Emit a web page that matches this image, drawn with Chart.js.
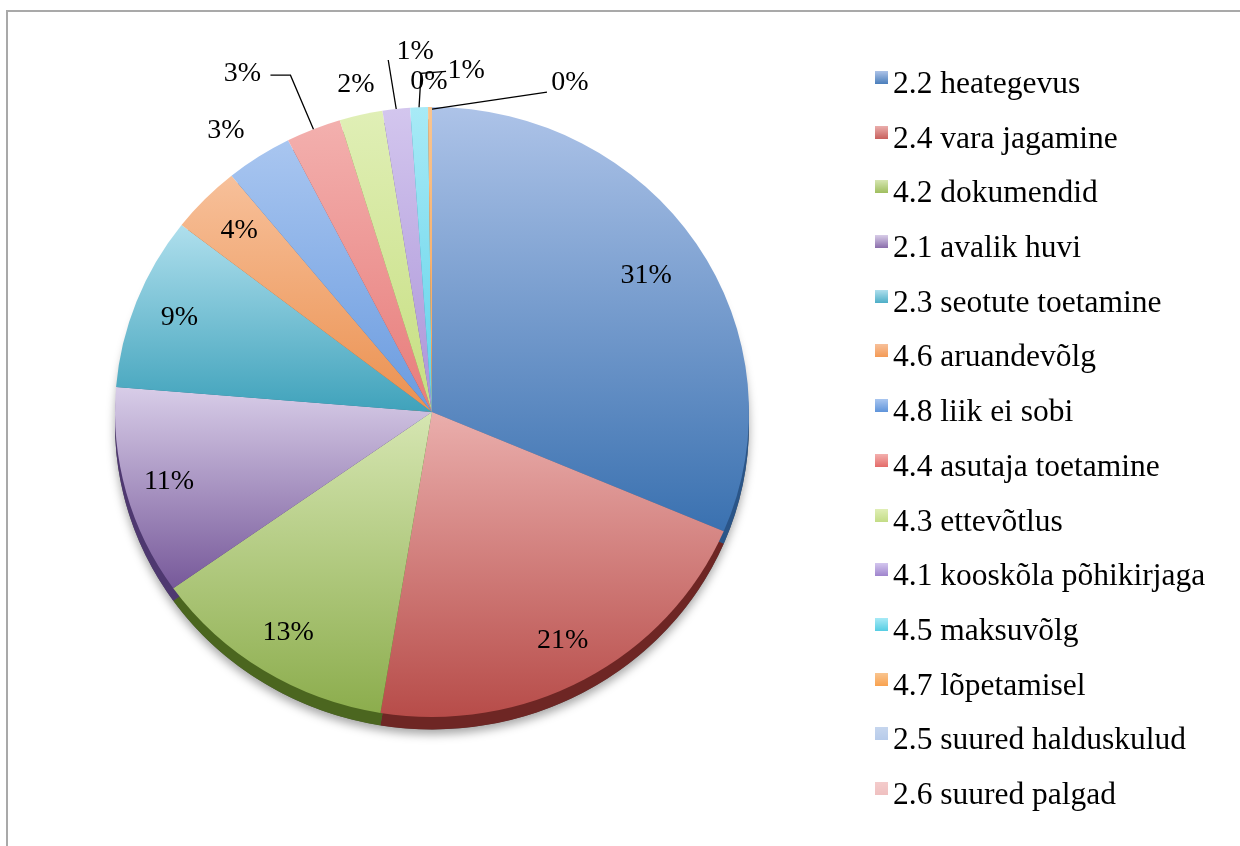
<!DOCTYPE html>
<html lang="et">
<head>
    <meta charset="UTF-8">
    <title>Pie</title>
    <script src="https://cdn.jsdelivr.net/npm/chart.js"></script>
    <style>
        body {
            margin: 0;
            background: #fff;
            font-family: "Liberation Serif", "Times New Roman", serif;
        }
        .frame {
            position: absolute;
            left: 6px;
            top: 10px;
            width: 1300px;
            height: 900px;
            border-left: 2px solid #a9a9a9;
            border-top: 2px solid #a9a9a9;
        }
        #pie {
            position: absolute;
            left: 0;
            top: 0;
        }
        .legend {
            position: absolute;
            left: 875px;
            top: 56px;
            margin: 0;
            padding: 0;
            list-style: none;
        }
        .legend li {
            position: relative;
            height: 54.7px;
            line-height: 54.7px;
            padding-left: 18px;
            font-size: 31.5px;
            color: #000;
            white-space: nowrap;
        }
        .legend .box {
            position: absolute;
            left: 0;
            top: 15px;
            width: 13px;
            height: 13px;
        }
    </style>
</head>
<body>
    <div class="frame"></div>
    <canvas id="pie" width="1240" height="846"></canvas>
    <ul class="legend" id="legend"></ul>

    <script>
        const categories = [
            '2.2 heategevus', '2.4 vara jagamine', '4.2 dokumendid', '2.1 avalik huvi',
            '2.3 seotute toetamine', '4.6 aruandevõlg', '4.8 liik ei sobi', '4.4 asutaja toetamine',
            '4.3 ettevõtlus', '4.1 kooskõla põhikirjaga', '4.5 maksuvõlg', '4.7 lõpetamisel',
            '2.5 suured halduskulud', '2.6 suured palgad'
        ];
        // share of cases, %
        const shares = [31.4, 21.2, 12.6, 11.1, 9.2, 3.6, 3.4, 2.8, 2.2, 1.4, 0.9, 0.2, 0, 0];

        const topColors = ['#adc3e8', '#eaaeac', '#d6e6b2', '#d8cde8', '#afdfed', '#f7c09a', '#a9c6f0', '#f3b0ae',
            '#e0efb6', '#d3c6ee', '#a8eaf6', '#f9c590', '#c6d6ee', '#f4cccc'];
        const bottomColors = ['#3a71b0', '#b74c49', '#8cad4d', '#77599a', '#3fa2bb', '#eb9150', '#6a9bdf', '#e77c7a',
            '#c6de80', '#ab94d8', '#5fd2ea', '#f7a050', '#a9c2e6', '#eeb4b4'];
        const rimColors = ['#2a5588', '#6e2624', '#4b661f', '#4e3870', '#2a7488', '#a8602a', '#3d6aa8', '#a04a48',
            '#7d9540', '#6f5a9a', '#3a9ab0', '#b07030', '#7f97bb', '#b88a8a'];
        const legendColors = ['#4a7ebb', '#c8605d', '#9fbe5e', '#8a6dab', '#4daec7', '#f49a55', '#5f94da', '#e46b69',
            '#c3dc86', '#9f84cd', '#55cde3', '#f9a24f', '#b7cbea', '#efc0c0'];

        const squash = 0.962;
        const depth = 13;

        // label placement: f = fraction of radius along the slice middle, dx/dy nudges, leader polyline
        const labelPlace = [
            { f: 0.81 }, { f: 0.855 }, { f: 0.855 }, { f: 0.86 }, { f: 0.855 }, { f: 0.85 },
            { f: 1.12, dx: -12, dy: 5 },
            { f: 1, dx: -71, dy: -56, leader: [[0, 0], [-23, -54], [-43, -54]] },
            { f: 1, dx: -5, dy: -30 },
            { f: 1, dx: 19, dy: -57, leader: [[0, 0], [-8, -49]] },
            { f: 1, dx: 47, dy: -37, leader: [[0, 0], [2, -34], [27, -36]] },
            { f: 1, dx: -1, dy: -25 },
            { f: 1, dx: 138, dy: -24, leader: [[0, 2], [115, -15]] },
            null
        ];

        const total = shares.reduce((a, b) => a + b, 0);

        function sliceGradient(context) {
            const chart = context.chart;
            const area = chart.chartArea;
            const i = context.dataIndex;
            if (!area || i === undefined) return legendColors[i] || '#888';
            const cx = (area.left + area.right) / 2;
            const cy = (area.top + area.bottom) / 2;
            const r = Math.min(area.width, area.height) / 2;
            let before = 0;
            for (let j = 0; j < i; j++) before += shares[j];
            const a0 = before / total * 2 * Math.PI - Math.PI / 2;
            const a1 = (before + shares[i]) / total * 2 * Math.PI - Math.PI / 2;
            let ymin = cy, ymax = cy;
            [a0, a1].forEach(a => {
                const y = cy + r * Math.sin(a);
                ymin = Math.min(ymin, y);
                ymax = Math.max(ymax, y);
            });
            if (a0 <= Math.PI / 2 && a1 >= Math.PI / 2) ymax = cy + r;
            if (a0 <= 1.5 * Math.PI && a1 >= 1.5 * Math.PI) ymin = cy - r;
            if (ymax - ymin < 1) ymax = ymin + 1;
            const g = chart.ctx.createLinearGradient(0, ymin, 0, ymax);
            g.addColorStop(0, topColors[i]);
            g.addColorStop(1, bottomColors[i]);
            return g;
        }

        const pie3d = {
            id: 'pie3d',
            beforeDatasetsDraw(chart) {
                const ctx = chart.ctx;
                const arcs = chart.getDatasetMeta(0).data;
                const cx = arcs[0].x, cy = arcs[0].y, R = arcs[0].outerRadius;
                ctx.save();
                ctx.translate(cx, cy);
                ctx.scale(1, squash);
                ctx.translate(-cx, -cy);

                // soft shadow under the whole pie
                ctx.save();
                ctx.shadowColor = 'rgba(0,0,0,0.35)';
                ctx.shadowBlur = 10;
                ctx.shadowOffsetY = 5;
                ctx.beginPath();
                ctx.arc(cx, cy + depth, R, 0, Math.PI * 2);
                ctx.fillStyle = '#555';
                ctx.fill();
                ctx.restore();

                // side of the pie
                arcs.forEach((arc, i) => {
                    if (arc.endAngle - arc.startAngle <= 0) return;
                    ctx.beginPath();
                    ctx.moveTo(arc.x, arc.y + depth);
                    ctx.arc(arc.x, arc.y + depth, arc.outerRadius, arc.startAngle, arc.endAngle);
                    ctx.closePath();
                    ctx.fillStyle = rimColors[i];
                    ctx.fill();
                });
            },
            afterDatasetsDraw(chart) {
                const ctx = chart.ctx;
                ctx.restore();
                const arcs = chart.getDatasetMeta(0).data;
                ctx.save();
                ctx.font = '28px "Liberation Serif", serif';
                ctx.fillStyle = '#000';
                ctx.strokeStyle = '#000';
                ctx.lineWidth = 1.3;
                ctx.textAlign = 'center';
                ctx.textBaseline = 'middle';
                arcs.forEach((arc, i) => {
                    const p = labelPlace[i];
                    if (!p) return;
                    const mid = (arc.startAngle + arc.endAngle) / 2;
                    const R = arc.outerRadius;
                    const ex = arc.x + Math.cos(mid) * R * p.f;
                    const ey = arc.y + Math.sin(mid) * R * p.f * squash;
                    if (p.leader) {
                        ctx.beginPath();
                        p.leader.forEach(([lx, ly], k) => {
                            if (k === 0) ctx.moveTo(ex + lx, ey + ly);
                            else ctx.lineTo(ex + lx, ey + ly);
                        });
                        ctx.stroke();
                    }
                    const pct = Math.round(shares[i] / total * 100) + '%';
                    ctx.fillText(pct, ex + (p.dx || 0), ey + (p.dy || 0));
                });
                ctx.restore();
            }
        };

        new Chart(document.getElementById('pie'), {
            type: 'pie',
            data: {
                labels: categories,
                datasets: [{
                    data: shares,
                    backgroundColor: sliceGradient,
                    borderWidth: 0,
                    clip: false
                }]
            },
            options: {
                responsive: false,
                animation: false,
                events: [],
                layout: { padding: { left: 115, right: 491, top: 95, bottom: 117 } },
                plugins: {
                    legend: { display: false },
                    tooltip: { enabled: false }
                }
            },
            plugins: [pie3d]
        });

        const legend = document.getElementById('legend');
        categories.forEach((name, i) => {
            const li = document.createElement('li');
            const box = document.createElement('span');
            box.className = 'box';
            box.style.background = 'linear-gradient(' + topColors[i] + ', ' + legendColors[i] + ')';
            li.appendChild(box);
            li.appendChild(document.createTextNode(name));
            legend.appendChild(li);
        });
    </script>
</body>
</html>
